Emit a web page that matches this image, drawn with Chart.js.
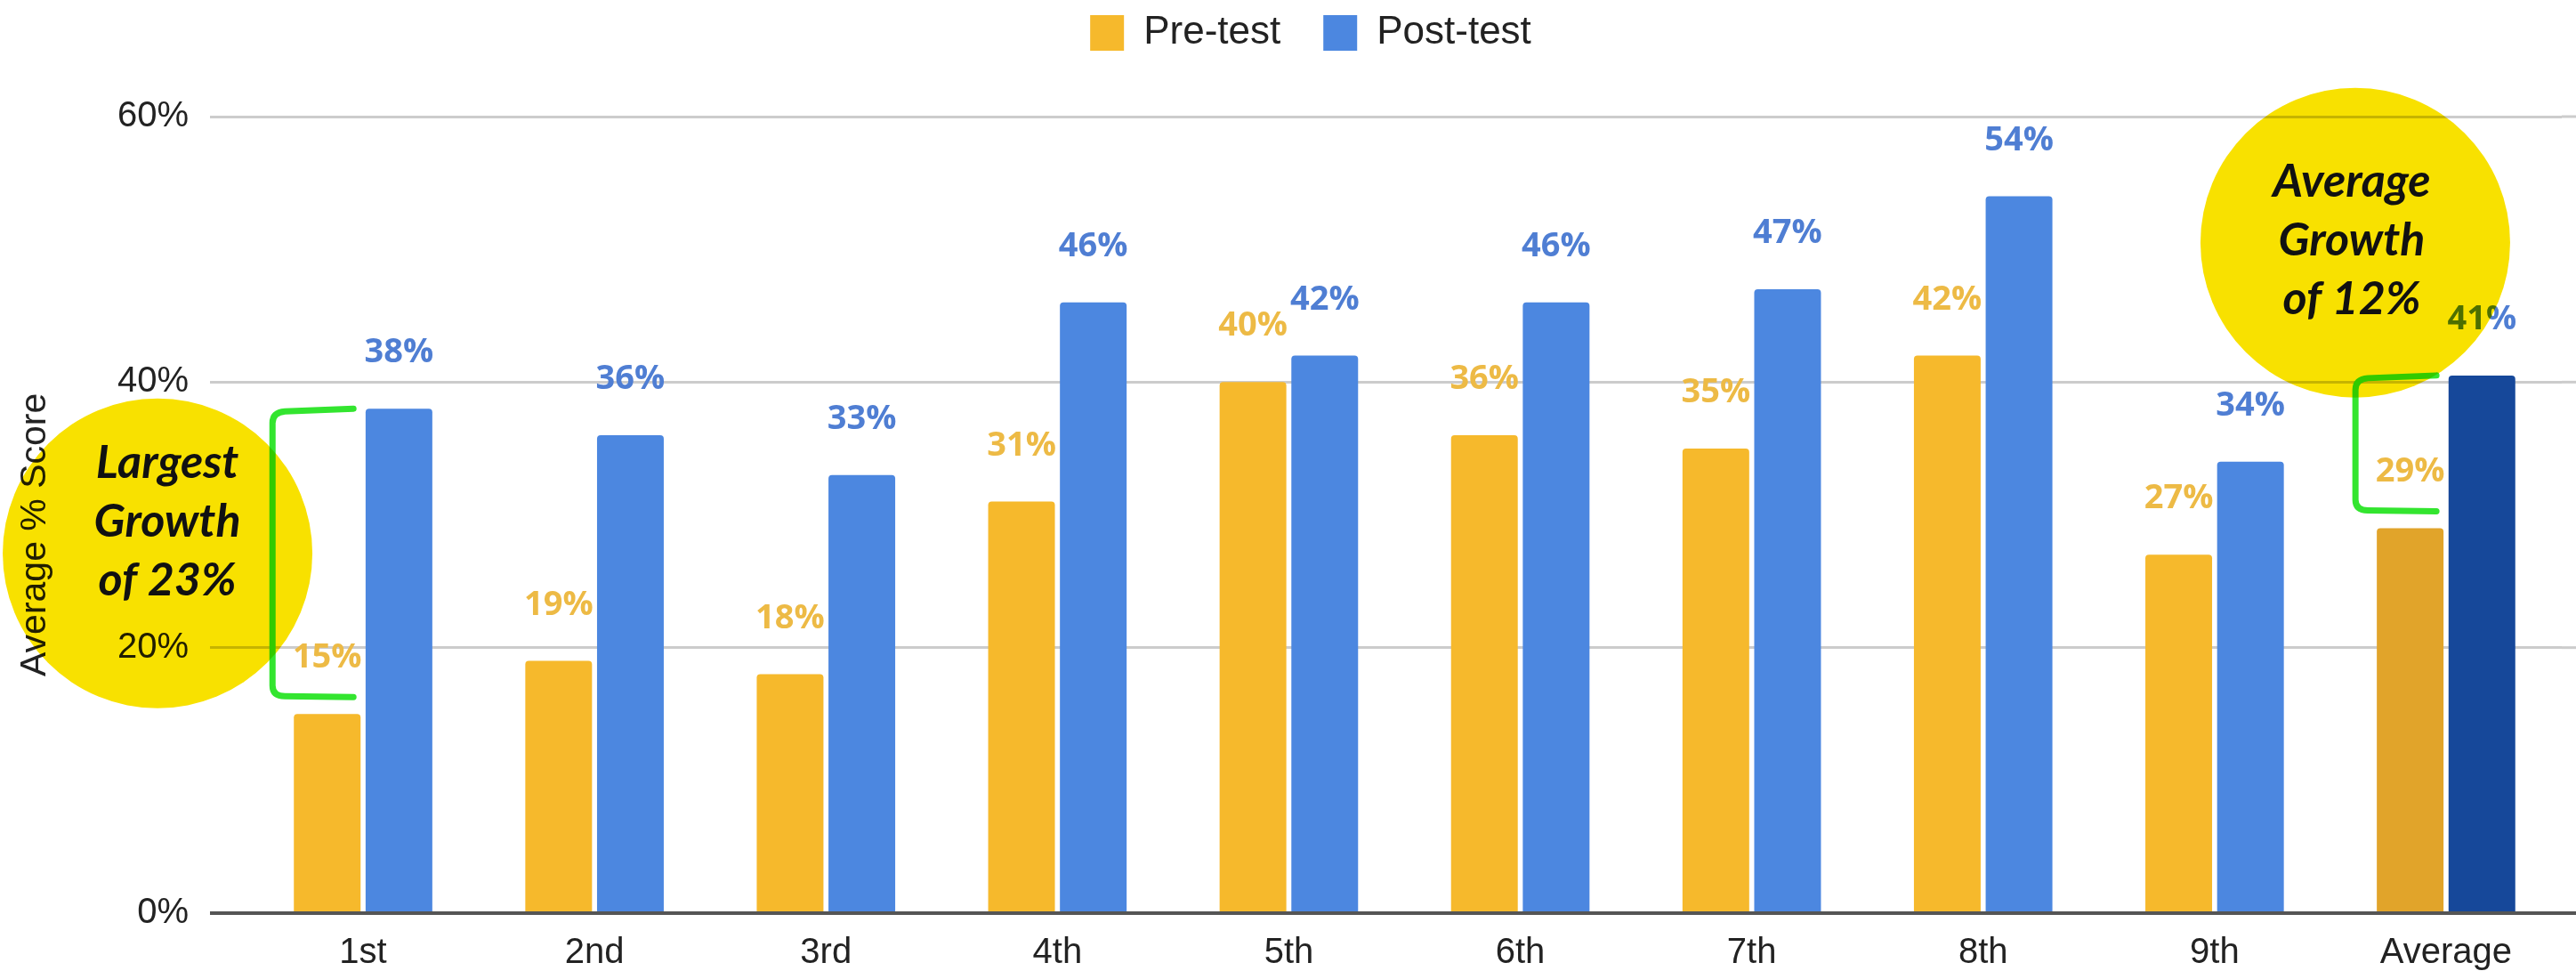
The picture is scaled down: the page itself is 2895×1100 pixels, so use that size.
<!DOCTYPE html>
<html lang="en">
<head>
<meta charset="UTF-8">
<title>Pre-test vs Post-test</title>
<script src="https://cdn.jsdelivr.net/npm/chart.js@4"></script>
<style>
  body { margin: 0; background: #fff; }
  #wrap { width: 2895px; height: 1100px; }
</style>
</head>
<body>
<div id="wrap"><canvas id="chart"></canvas></div>
<script>
// data
const categories = ['1st', '2nd', '3rd', '4th', '5th', '6th', '7th', '8th', '9th', 'Average'];
const preTest = [15, 19, 18, 31, 40, 36, 35, 42, 27, 29];
const postTest = [38, 36, 33, 46, 42, 46, 47, 54, 34, 40.5];
const yTicks = [0, 20, 40, 60];
const yTitle = 'Average % Score';

// the yellow highlighter notes
const callouts = [
    { lines: ['Largest', 'Growth', 'of 23%'], category: 0, value: 27.1, dx: -231, textDx: 11, textDy: -36 },
    { lines: ['Average', 'Growth', 'of 12%'], category: 9, value: 50.5, dx: -102, textDx: -4, textDy: -2 }
];
const bracketCategories = [0, 9];

const AVG = categories.length - 1;
const FONT = '"Liberation Sans", Arial';

// make room under the legend
const legendSpacer = {
    id: 'legendSpacer',
    beforeInit(chart) {
        const fit = chart.legend.fit;
        chart.legend.fit = function () {
            fit.call(this);
            this.height += 62;
        };
    }
};

// grid lines run to the right edge, plus the rotated axis title
const axisExtras = {
    id: 'axisExtras',
    beforeDatasetsDraw(chart) {
        const { ctx, chartArea, scales } = chart;
        ctx.save();
        scales.y.ticks.forEach(t => {
            const y = scales.y.getPixelForValue(t.value);
            ctx.strokeStyle = t.value === 0 ? '#555555' : '#CCCCCC';
            ctx.lineWidth = t.value === 0 ? 4 : 3;
            ctx.beginPath();
            ctx.moveTo(chartArea.right, y);
            ctx.lineTo(chart.width, y);
            ctx.stroke();
        });
        ctx.translate(40, scales.y.getPixelForValue(28.5));
        ctx.rotate(-Math.PI / 2);
        ctx.font = '41px ' + FONT;
        ctx.fillStyle = '#222222';
        ctx.textAlign = 'center';
        ctx.textBaseline = 'middle';
        ctx.fillText(yTitle, 0, 0);
        ctx.restore();
    }
};

const barLabels = {
    id: 'barLabels',
    afterDatasetsDraw(chart) {
        const ctx = chart.ctx;
        ctx.save();
        ctx.font = '700 38px "Open Sans"';
        ctx.textAlign = 'center';
        ctx.textBaseline = 'alphabetic';
        chart.data.datasets.forEach((ds, i) => {
            chart.getDatasetMeta(i).data.forEach((bar, j) => {
                ctx.fillStyle = ds.labelColor;
                ctx.fillText(Math.round(ds.data[j]) + '%', bar.x, bar.y - 52);
            });
        });
        ctx.restore();
    }
};

const highlights = {
    id: 'highlights',
    afterDraw(chart) {
        const { ctx, scales } = chart;
        const pre = chart.getDatasetMeta(0).data;
        const post = chart.getDatasetMeta(1).data;
        ctx.save();

        // green brackets
        ctx.strokeStyle = '#33E52F';
        ctx.lineWidth = 7;
        ctx.lineCap = 'round';
        ctx.lineJoin = 'round';
        bracketCategories.forEach(i => {
            const vx = pre[i].x - pre[i].width / 2 - 24;
            const end = pre[i].x + pre[i].width / 2 - 8;
            const top = post[i].y;
            const bottom = pre[i].y - 20;
            ctx.beginPath();
            ctx.moveTo(end, top);
            ctx.lineTo(vx + 14, top + 3);
            ctx.quadraticCurveTo(vx, top + 4, vx, top + 16);
            ctx.lineTo(vx, bottom - 12);
            ctx.quadraticCurveTo(vx, bottom, vx + 14, bottom);
            ctx.lineTo(end, bottom + 1);
            ctx.stroke();
        });

        // yellow circles, multiplied like a highlighter
        callouts.forEach(c => {
            const cx = scales.x.getPixelForValue(c.category) + c.dx;
            const cy = scales.y.getPixelForValue(c.value);
            ctx.globalCompositeOperation = 'multiply';
            ctx.fillStyle = '#F8E100';
            ctx.beginPath();
            ctx.arc(cx, cy, 174, 0, Math.PI * 2);
            ctx.fill();
            ctx.globalCompositeOperation = 'source-over';
            ctx.fillStyle = '#111111';
            ctx.font = 'italic 700 52px Lato';
            ctx.textAlign = 'center';
            ctx.textBaseline = 'middle';
            c.lines.forEach((line, k) => {
                ctx.fillText(line, cx + c.textDx, cy + c.textDy + (k - 1) * 66);
            });
        });
        ctx.restore();
    }
};

new Chart(document.getElementById('chart'), {
    type: 'bar',
    data: {
        labels: categories,
        datasets: [{
            label: 'Pre-test',
            data: preTest,
            backgroundColor: c => c.dataIndex === AVG ? '#E1A42A' : '#F6B92C',
            labelColor: '#EDBA45',
            borderRadius: 4,
            categoryPercentage: 0.62,
            barPercentage: 0.93
        }, {
            label: 'Post-test',
            data: postTest,
            backgroundColor: c => c.dataIndex === AVG ? '#16489A' : '#4C87E0',
            labelColor: '#4F7ED3',
            borderRadius: 4,
            categoryPercentage: 0.62,
            barPercentage: 0.93
        }]
    },
    options: {
        responsive: true,
        maintainAspectRatio: false,
        animation: false,
        layout: { padding: { top: -33, right: 16, bottom: 0, left: 67 } },
        plugins: {
            legend: {
                position: 'top',
                labels: {
                    boxWidth: 38,
                    boxHeight: 40,
                    padding: 48,
                    color: '#222222',
                    font: { family: FONT, size: 44 }
                }
            },
            tooltip: { enabled: false }
        },
        scales: {
            x: {
                grid: { display: false, drawTicks: false },
                border: { display: false },
                ticks: {
                    padding: 21,
                    color: '#222222',
                    font: { family: FONT, size: 40 }
                },
                afterFit: s => { s.height = 74; }
            },
            y: {
                min: 0,
                max: 60,
                afterBuildTicks: s => { s.ticks = yTicks.map(v => ({ value: v })); },
                grid: {
                    color: c => c.tick && c.tick.value === 0 ? '#555555' : '#CCCCCC',
                    lineWidth: c => c.tick && c.tick.value === 0 ? 4 : 3,
                    drawTicks: true,
                    tickLength: 42
                },
                border: { display: false },
                ticks: {
                    padding: 24,
                    color: '#222222',
                    font: { family: FONT, size: 40 },
                    callback: v => v + '%'
                },
                afterFit: s => { s.width = 211; }
            }
        }
    },
    plugins: [legendSpacer, axisExtras, barLabels, highlights]
});
</script>
</body>
</html>
